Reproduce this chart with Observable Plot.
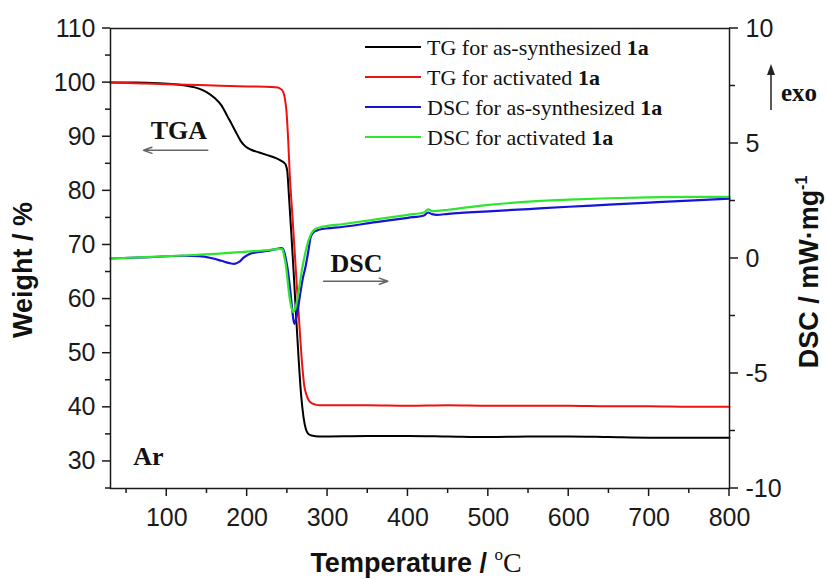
<!DOCTYPE html>
<html><head><meta charset="utf-8">
<script src="https://cdn.jsdelivr.net/npm/d3@7"></script>
<script src="https://cdn.jsdelivr.net/npm/@observablehq/plot@0.6"></script>
<style>body{margin:0;background:#fff}</style>
</head><body><div id="chart"></div>
<script>
// ---- data ----
const tgAsT = [30, 60, 90, 110, 125, 140, 150, 160, 168, 175, 182, 188, 193, 198, 205, 215, 225, 235, 242, 246, 248, 250, 252, 255, 258, 261, 264, 267, 270, 273, 276, 280, 290, 350, 400, 450, 500, 550, 600, 650, 700, 750, 800];
const tgAsW = [100, 100, 99.9, 99.7, 99.4, 98.9, 98.2, 97.1, 95.8, 93.9, 92, 90.3, 89, 88.2, 87.6, 87.1, 86.6, 86.1, 85.6, 85.2, 84.8, 83.5, 79, 72, 64.5, 56.5, 49, 42.5, 38.3, 36, 35.1, 34.8, 34.6, 34.7, 34.7, 34.6, 34.5, 34.6, 34.6, 34.5, 34.4, 34.4, 34.4];

const tgActT = [30, 60, 100, 150, 200, 230, 238, 242, 245, 247, 249, 251, 253, 256, 259, 262, 265, 268, 271, 274, 277, 280, 285, 290, 350, 400, 450, 500, 550, 600, 650, 700, 750, 800];
const tgActW = [100, 99.9, 99.7, 99.5, 99.3, 99.2, 99.1, 98.8, 98.2, 97, 94.5, 89.5, 83, 76, 69, 62, 55.2, 48.7, 44, 42.2, 41.2, 40.8, 40.5, 40.4, 40.4, 40.3, 40.4, 40.3, 40.3, 40.3, 40.2, 40.2, 40.1, 40.1];

const dscAsT = [30, 80, 120, 140, 155, 168, 178, 184, 190, 196, 203, 212, 225, 237, 243, 246, 248, 250, 252, 254, 256, 258.5, 261, 264, 266, 269, 272.5, 276, 279, 283, 287, 290, 320, 360, 400, 420, 425, 430, 436, 450, 500, 550, 600, 650, 700, 750, 800];
const dscAsD = [0, 0.06, 0.12, 0.1, 0.02, -0.1, -0.2, -0.23, -0.15, 0.05, 0.2, 0.27, 0.33, 0.42, 0.45, 0.3, 0.0, -0.38, -0.9, -1.53, -2.2, -2.84, -2.6, -2.0, -1.53, -0.9, -0.38, 0.3, 0.93, 1.15, 1.22, 1.26, 1.38, 1.58, 1.77, 1.87, 2.0, 1.93, 1.9, 1.94, 2.05, 2.15, 2.25, 2.34, 2.43, 2.52, 2.6];

const dscActT = [30, 80, 120, 160, 200, 230, 240, 244, 246, 248, 250, 252, 254.5, 257, 259.5, 262, 265, 268, 272, 276, 280, 284, 290, 320, 360, 400, 420, 425, 430, 436, 450, 500, 550, 600, 650, 700, 750, 800];
const dscActD = [0, 0.07, 0.13, 0.2, 0.3, 0.38, 0.42, 0.4, 0.1, -0.25, -0.85, -1.5, -2.05, -2.33, -2.2, -1.83, -1.2, -0.52, 0.2, 0.75, 1.1, 1.27, 1.35, 1.5, 1.7, 1.9, 2.0, 2.14, 2.06, 2.07, 2.12, 2.33, 2.47, 2.56, 2.62, 2.66, 2.68, 2.68];

const xTicks = [100, 200, 300, 400, 500, 600, 700, 800];
const xMinor = [50, 150, 250, 350, 450, 550, 650, 750];
const wTicks = [30, 40, 50, 60, 70, 80, 90, 100, 110];
const wMinor = [25, 35, 45, 55, 65, 75, 85, 95, 105];
const dTicks = [-10, -5, 0, 5, 10];
const dMinor = [-7.5, -2.5, 2.5, 7.5];

const seriesNames = ["TG for as-synthesized ", "TG for activated ", "DSC for as-synthesized ", "DSC for activated "];
const seriesColors = ["#000000", "#ee1111", "#1515d8", "#2ee62e"];

const notes = [
  {text: "TGA", t: 115, w: 91.2},
  {text: "DSC", t: 336, w: 66.6},
  {text: "Ar", t: 77, w: 30.8}
];
const arrows = [
  {t1: 151, w1: 87.5, t2: 71, w2: 87.5},
  {t1: 295, w1: 63.3, t2: 375, w2: 63.3}
];

// ---- build ----
const W = 826, H = 579, mL = 110, mR = 97, mT = 28, mB = 91;
const dscToW = d3.scaleLinear().domain([-10, 10]).range([25, 110]);
const tgAs = d3.zip(tgAsT, tgAsW).map(([t, v]) => ({t, v}));
const tgAct = d3.zip(tgActT, tgActW).map(([t, v]) => ({t, v}));
const dscAs = d3.zip(dscAsT, dscAsD).map(([t, v]) => ({t, v: dscToW(v)}));
const dscAct = d3.zip(dscActT, dscActD).map(([t, v]) => ({t, v: dscToW(v)}));

const serif = "'Liberation Serif', 'Times New Roman', serif";
const sans = "'Liberation Sans', Arial, sans-serif";
const ink = "#1a1a1a";

const chart = Plot.plot({
  width: W, height: H,
  marginLeft: mL, marginRight: mR, marginTop: mT, marginBottom: mB,
  style: {fontFamily: sans, fontSize: "25px"},
  x: {domain: [30, 800]},
  y: {domain: [25, 110]},
  marks: [
    Plot.axisX(xTicks, {tickSize: 0, tickPadding: 20, label: null, fill: ink}),
    Plot.axisY(wTicks, {anchor: "left", tickSize: 0, tickPadding: 15, label: null, fill: ink}),
    Plot.axisY(dTicks.map(dscToW), {anchor: "right", tickSize: 0, tickPadding: 16, label: null, fill: ink,
      tickFormat: w => String(Math.round(dscToW.invert(w)))}),
    Plot.line(tgAs, {x: "t", y: "v", stroke: seriesColors[0], strokeWidth: 2, curve: "monotone-x"}),
    Plot.line(tgAct, {x: "t", y: "v", stroke: seriesColors[1], strokeWidth: 2, curve: "monotone-x"}),
    Plot.line(dscAs, {x: "t", y: "v", stroke: seriesColors[2], strokeWidth: 2.2, curve: "monotone-x"}),
    Plot.line(dscAct, {x: "t", y: "v", stroke: seriesColors[3], strokeWidth: 2.2, curve: "monotone-x"}),
    Plot.arrow(arrows, {x1: "t1", y1: "w1", x2: "t2", y2: "w2", stroke: "#666", strokeWidth: 1.5, headLength: 9, headAngle: 40}),
    Plot.text(notes, {x: "t", y: "w", text: "text", fontFamily: serif, fontWeight: "bold", fontSize: 26, fill: "#111"}),
    Plot.frame({stroke: ink, strokeWidth: 1.5})
  ]
});

const svg = d3.select(chart);
const xs = chart.scale("x"), ys = chart.scale("y");
const yB = H - mB, xL = mL, xR = W - mR;

// legend
const lg = svg.append("g").attr("text-anchor", "start");
seriesNames.forEach((name, i) => {
  const y = 47 + i * 30;
  lg.append("line").attr("x1", 365).attr("x2", 421).attr("y1", y).attr("y2", y)
    .attr("stroke", seriesColors[i]).attr("stroke-width", 2);
  const t = lg.append("text").attr("x", 427).attr("y", y + 7.5).attr("text-anchor", "start")
    .attr("font-family", serif).attr("font-size", 22).attr("fill", "#111");
  t.append("tspan").text(name);
  t.append("tspan").attr("font-weight", "bold").text("1a");
});
// exo annotation
svg.append("line").attr("x1", 771).attr("x2", 771).attr("y1", 110).attr("y2", 72)
  .attr("stroke", "#222").attr("stroke-width", 1.5);
svg.append("path").attr("d", "M771,64 L767,75 L775,75 Z").attr("fill", "#222");
svg.append("text").attr("x", 781).attr("y", 101).attr("text-anchor", "start").attr("font-family", serif)
  .attr("font-weight", "bold").attr("font-size", 25).attr("fill", "#111").text("exo");
// axis titles
const xt = svg.append("text").attr("x", 416).attr("y", 572).attr("text-anchor", "middle")
  .attr("font-family", sans).attr("font-weight", "bold").attr("font-size", 27).attr("fill", "#111");
xt.append("tspan").text("Temperature / ");
xt.append("tspan").attr("font-family", serif).attr("font-weight", "normal").attr("font-size", 17).attr("dy", -12).text("o");
xt.append("tspan").attr("font-family", serif).attr("font-weight", "normal").attr("font-size", 28).attr("dy", 12).text("C");

svg.append("text").attr("transform", "translate(32,270) rotate(-90)").attr("text-anchor", "middle")
  .attr("font-family", sans).attr("font-weight", "bold").attr("font-size", 27).attr("fill", "#111")
  .text("Weight / %");

const yt = svg.append("text").attr("transform", "translate(818,272) rotate(-90)").attr("text-anchor", "middle")
  .attr("font-family", sans).attr("font-weight", "bold").attr("font-size", 27).attr("fill", "#111");
yt.append("tspan").text("DSC / mW\u00b7mg");
yt.append("tspan").attr("font-size", 16).attr("dy", -11).text("-1");

// outward tick marks, positioned through Plot's own scales (drawn last)
const tg = svg.append("g");
xTicks.forEach(v => { const p = xs.apply(v);
  tg.append("line").attr("stroke", ink).attr("stroke-width", 1.5).attr("x1", p).attr("x2", p).attr("y1", yB).attr("y2", yB + 8); });
xMinor.forEach(v => { const p = xs.apply(v);
  tg.append("line").attr("stroke", ink).attr("stroke-width", 1.5).attr("x1", p).attr("x2", p).attr("y1", yB).attr("y2", yB + 5); });
wTicks.forEach(v => { const p = ys.apply(v);
  tg.append("line").attr("stroke", ink).attr("stroke-width", 1.5).attr("x1", xL - 8).attr("x2", xL).attr("y1", p).attr("y2", p); });
wMinor.forEach(v => { const p = ys.apply(v);
  tg.append("line").attr("stroke", ink).attr("stroke-width", 1.5).attr("x1", xL - 5).attr("x2", xL).attr("y1", p).attr("y2", p); });
dTicks.forEach(v => { const p = ys.apply(dscToW(v));
  tg.append("line").attr("stroke", ink).attr("stroke-width", 1.5).attr("x1", xR).attr("x2", xR + 9).attr("y1", p).attr("y2", p); });
dMinor.forEach(v => { const p = ys.apply(dscToW(v));
  tg.append("line").attr("stroke", ink).attr("stroke-width", 1.5).attr("x1", xR).attr("x2", xR + 6).attr("y1", p).attr("y2", p); });

document.getElementById("chart").appendChild(chart);
</script>
</body></html>
